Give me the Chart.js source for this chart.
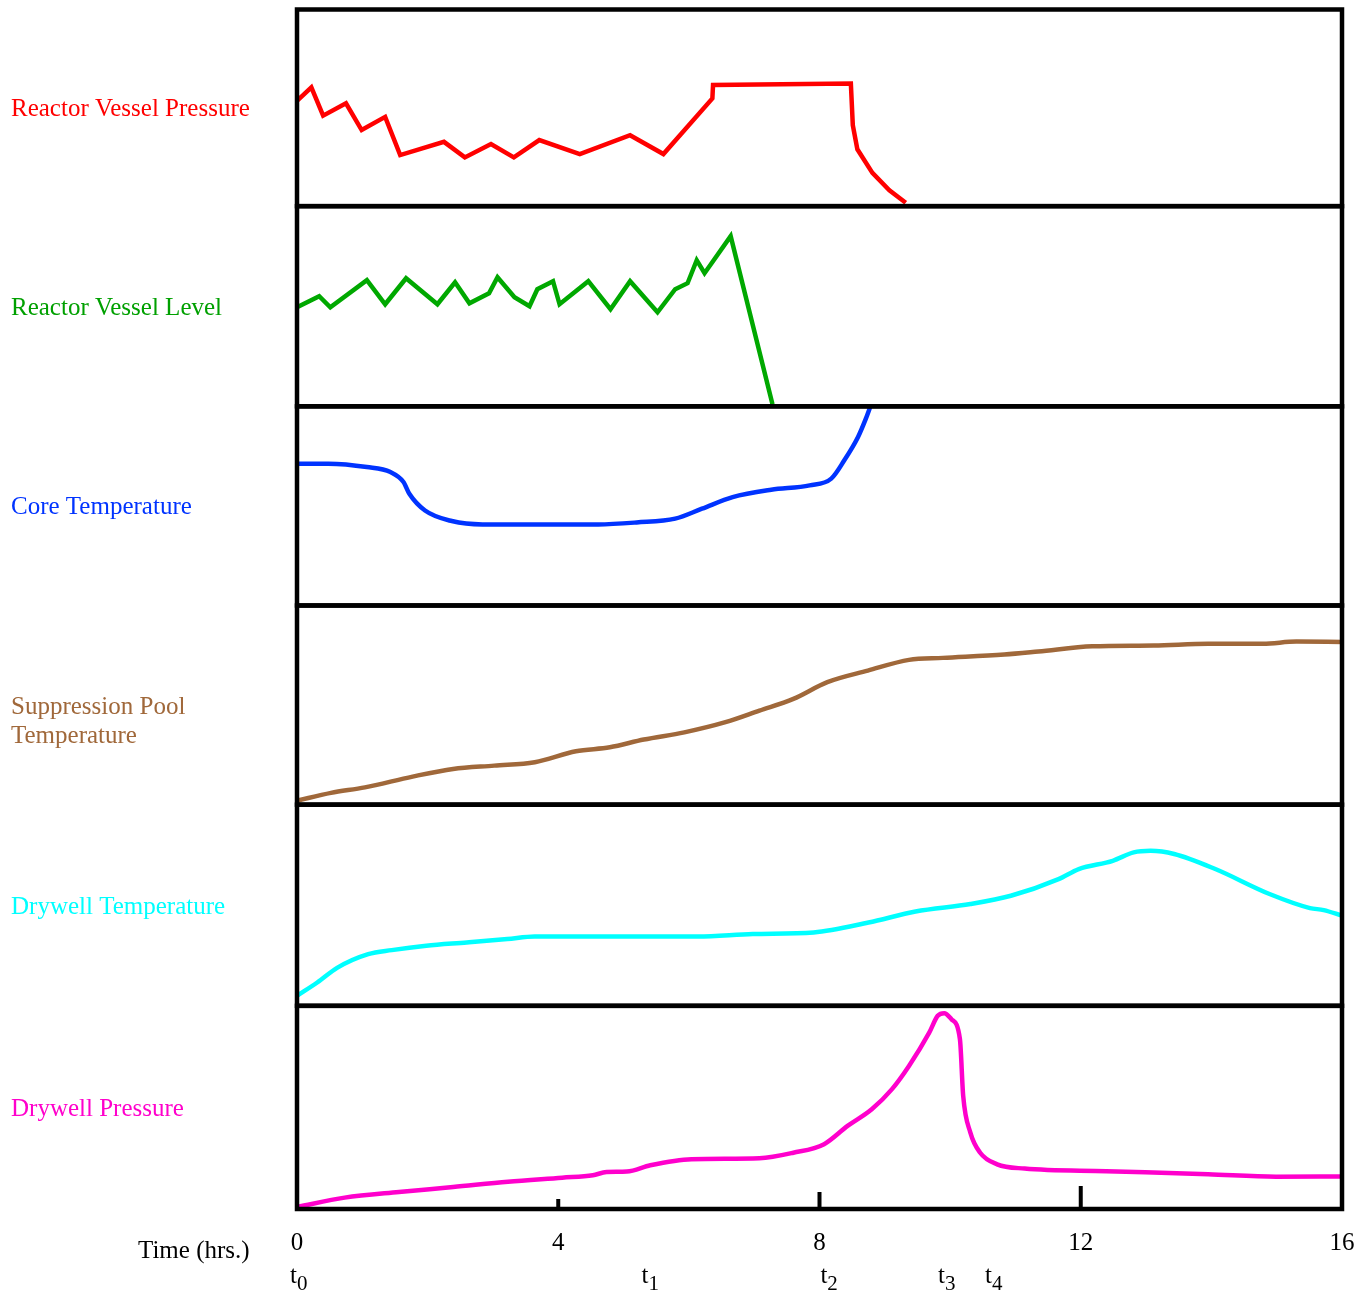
<!DOCTYPE html>
<html lang="en">
<head>
<meta charset="UTF-8">
<title>Plant Parameters vs Time</title>
<script src="https://cdn.jsdelivr.net/npm/chart.js"></script>
<style>
  body { margin: 0; background: #fff; }
</style>
</head>
<body>
<canvas id="trendChart" width="1370" height="1294"></canvas>
<script>
const pressureHours  = [0, 0.22, 0.40, 0.75, 0.99, 1.35, 1.58, 2.25, 2.57, 2.97, 3.32, 3.71, 4.33, 5.10, 5.61, 6.36, 6.37, 8.48, 8.51, 8.58, 8.81, 9.07, 9.32];
const pressureValues = [53.6, 60.4, 46.0, 52.3, 38.7, 45.4, 26.0, 32.7, 24.8, 31.6, 24.8, 33.6, 26.5, 36.1, 26.5, 54.8, 61.6, 62.4, 41.2, 28.9, 16.9, 8.1, 1.7];

const levelHours  = [0, 0.34, 0.51, 1.07, 1.35, 1.67, 2.15, 2.42, 2.64, 2.94, 3.07, 3.33, 3.56, 3.68, 3.92, 4.02, 4.46, 4.80, 5.10, 5.52, 5.79, 5.98, 6.12, 6.24, 6.64, 7.28];
const levelValues = [49.5, 55, 49.5, 63, 51, 64, 51, 62, 51.5, 56.5, 64.5, 54.5, 50, 58.5, 62.5, 51, 62.5, 48.5, 62.5, 47, 58.5, 61.5, 73, 66.5, 85, 1];

const coreHours  = [0, 0.48, 1.07, 1.43, 1.63, 1.72, 1.96, 2.37, 2.84, 4.02, 4.61, 5.20, 5.79, 6.20, 6.67, 7.26, 7.85, 8.18, 8.38, 8.59, 8.71, 8.78];
const coreValues = [71.2, 71.2, 69.5, 67.0, 62.0, 56.1, 47.7, 42.4, 40.7, 40.7, 40.7, 41.7, 43.6, 48.6, 54.4, 58.1, 60.3, 63.7, 72.9, 84.6, 93.8, 100];

const poolHours  = [0, 0.52, 1.04, 1.77, 2.39, 3.02, 3.64, 4.27, 4.79, 5.31, 5.93, 6.56, 7.08, 7.60, 8.12, 8.74, 9.37, 9.89, 10.83, 11.35, 12.18, 13.12, 13.95, 14.79, 15.30, 16];
const poolValues = [2.0, 5.9, 8.7, 14.1, 17.9, 19.6, 21.3, 26.8, 28.8, 32.7, 36.3, 41.4, 47.2, 53.1, 61.5, 67.3, 72.7, 73.7, 75.4, 76.9, 79.5, 79.9, 80.8, 80.8, 81.9, 81.7];

const dwTempHours  = [0, 0.31, 0.62, 1.09, 1.45, 1.98, 2.60, 3.22, 3.64, 4.58, 6.14, 6.98, 7.91, 8.75, 9.47, 10.31, 10.93, 11.66, 11.97, 12.49, 12.81, 13.07, 13.43, 14.06, 14.89, 15.51, 15.72, 16];
const dwTempValues = [5.0, 11.6, 19.0, 25.7, 27.7, 29.9, 31.5, 33.2, 34.5, 34.5, 34.5, 35.7, 36.5, 41.4, 46.9, 50.6, 54.7, 63.0, 68.0, 72.1, 76.3, 77.1, 75.5, 68.0, 55.6, 48.6, 47.6, 44.8];

const dwPressHours  = [0, 0.73, 1.56, 2.39, 3.23, 4.06, 4.53, 4.74, 5.05, 5.41, 6.04, 7.08, 7.60, 8.07, 8.43, 8.80, 9.11, 9.37, 9.68, 9.81, 9.91, 10.02, 10.15, 10.20, 10.31, 10.46, 10.72, 11.14, 12.39, 13.95, 14.99, 16];
const dwPressValues = [1.0, 5.6, 8.4, 10.8, 13.4, 15.4, 16.6, 18.2, 18.4, 21.5, 24.5, 25.0, 27.7, 31.9, 40.9, 49.1, 59.0, 70.4, 86.8, 95.1, 96.4, 93.4, 83.6, 55.7, 37.6, 27.7, 22.0, 19.9, 18.6, 17.1, 15.9, 16.0];

const panelLabels = [
  ['Reactor Vessel Pressure'],
  ['Reactor Vessel Level'],
  ['Core Temperature'],
  ['Suppression Pool', 'Temperature'],
  ['Drywell Temperature'],
  ['Drywell Pressure']
];
const timeTicks = [0, 4, 8, 12, 16];
const eventHours = [0, 5.38, 8.12, 9.92, 10.64];
const eventSubs = ['0', '1', '2', '3', '4'];

// panels listed top to bottom
const panels = [
  { id: 'yRvp',  hours: pressureHours, values: pressureValues, color: '#ff0000', text: '#ff0000', weight: 196.5, smooth: false },
  { id: 'yRvl',  hours: levelHours,    values: levelValues,    color: '#00a800', text: '#00a000', weight: 200,   smooth: false },
  { id: 'yCore', hours: coreHours,     values: coreValues,     color: '#0033ff', text: '#0033ff', weight: 199,   smooth: true },
  { id: 'yPool', hours: poolHours,     values: poolValues,     color: '#a0683a', text: '#a0683a', weight: 199,   smooth: true },
  { id: 'yDwT',  hours: dwTempHours,   values: dwTempValues,   color: '#00ffff', text: '#00ffff', weight: 201,   smooth: true },
  { id: 'yDwP',  hours: dwPressHours,  values: dwPressValues,  color: '#ff00cc', text: '#ff00cc', weight: 203,   smooth: true }
];

const serif = '"Liberation Serif", "Times New Roman", serif';

const scales = {
  x: {
    type: 'linear',
    min: 0,
    max: 16,
    grid: { display: false },
    border: { display: false },
    afterBuildTicks: (axis) => { axis.ticks = timeTicks.map(v => ({ value: v })); },
    ticks: { color: '#000', padding: 11, maxRotation: 0, font: { family: serif, size: 25 } }
  }
};
// stacked axes are placed last-defined on top, so add them bottom first
panels.slice().reverse().forEach(p => {
  scales[p.id] = {
    type: 'linear',
    position: 'left',
    stack: 'panels',
    stackWeight: p.weight,
    min: 0,
    max: 100,
    display: false
  };
});

const datasets = panels.map(p => ({
  data: p.hours.map((h, i) => ({ x: h, y: p.values[i] })),
  yAxisID: p.id,
  borderColor: p.color,
  borderWidth: 4.5,
  pointRadius: 0,
  fill: false,
  tension: p.smooth ? 0.4 : 0,
  cubicInterpolationMode: p.smooth ? 'monotone' : 'default'
}));

const panelFrame = {
  id: 'panelFrame',
  afterDatasetsDraw(chart) {
    const { ctx, chartArea } = chart;
    const xs = chart.scales.x;
    ctx.save();
    ctx.strokeStyle = '#000';
    ctx.lineWidth = 4.5;
    panels.forEach(p => {
      const s = chart.scales[p.id];
      ctx.strokeRect(chartArea.left, s.top, chartArea.right - chartArea.left, s.bottom - s.top);
    });
    // small hour marks rising from the bottom edge
    const markLen = { 4: 10, 8: 17, 12: 23 };
    ctx.lineWidth = 4;
    Object.keys(markLen).forEach(v => {
      const px = xs.getPixelForValue(+v);
      ctx.beginPath();
      ctx.moveTo(px, chartArea.bottom);
      ctx.lineTo(px, chartArea.bottom - markLen[v]);
      ctx.stroke();
    });
    ctx.restore();
  },
  afterDraw(chart) {
    const { ctx, chartArea } = chart;
    const xs = chart.scales.x;
    ctx.save();
    ctx.font = '25px ' + serif;
    ctx.textBaseline = 'middle';
    ctx.textAlign = 'left';
    panels.forEach((p, i) => {
      const s = chart.scales[p.id];
      const mid = (s.top + s.bottom) / 2 + 2;
      ctx.fillStyle = p.text;
      // first line sits on the panel's middle, a second line hangs below it
      panelLabels[i].forEach((t, k) => {
        ctx.fillText(t, 11, mid + k * 29);
      });
    });

    ctx.fillStyle = '#000';
    ctx.textBaseline = 'alphabetic';
    ctx.fillText('Time (hrs.)', 138, chartArea.bottom + 49);

    eventHours.forEach((h, i) => {
      const px = xs.getPixelForValue(h);
      ctx.font = '25px ' + serif;
      ctx.textAlign = 'right';
      ctx.fillText('t', px, chartArea.bottom + 74);
      ctx.font = '21px ' + serif;
      ctx.textAlign = 'left';
      ctx.fillText(eventSubs[i], px, chartArea.bottom + 81);
    });
    ctx.restore();
  }
};

new Chart(document.getElementById('trendChart'), {
  type: 'line',
  data: { datasets },
  options: {
    responsive: false,
    animation: false,
    devicePixelRatio: 1,
    layout: { padding: { left: 297, right: 28, top: 9.5, bottom: 25 } },
    plugins: { legend: { display: false }, tooltip: { enabled: false } },
    scales
  },
  plugins: [panelFrame]
});
</script>
</body>
</html>
